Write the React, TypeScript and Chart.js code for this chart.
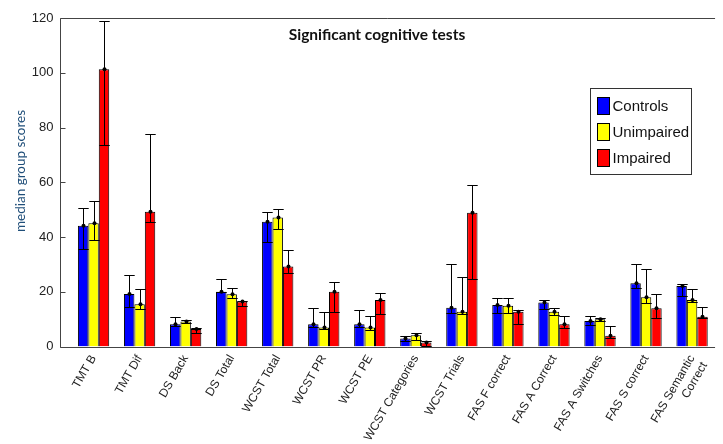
import React, { useEffect, useRef } from 'react';
import { Chart, registerables } from 'chart.js';

Chart.register(...registerables);

const categories: (string | string[])[] = [
  'TMT B', 'TMT Dif', 'DS Back', 'DS Total', 'WCST Total', 'WCST PR', 'WCST PE',
  'WCST Categories', 'WCST Trials', 'FAS F correct', 'FAS A Correct', 'FAS A Switches',
  'FAS S correct', ['FAS Semantic', 'Correct'],
];

const seriesNames = ['Controls', 'Unimpaired', 'Impaired'];
const seriesColors = ['#0000FF', '#FFFF00', '#FF0000'];

const controls = [44.1, 19.2, 8.1, 20.0, 45.6, 8.1, 8.1, 2.9, 14.2, 15.2, 16.1, 9.3, 23.1, 22.1];
const controlsLow = [35.7, 14.5, 7.5, 19.8, 38.1, 7.0, 7.0, 2.0, 12.1, 12.1, 13.7, 7.9, 21.3, 18.4];
const controlsHigh = [50.7, 26.1, 10.9, 24.7, 49.0, 14.2, 13.3, 3.9, 30.0, 17.8, 17.1, 11.3, 30.0, 22.7];

const unimpaired = [45.0, 15.4, 9.1, 19.1, 47.1, 6.9, 6.9, 4.1, 12.7, 14.9, 12.7, 10.0, 18.0, 17.0];
const unimpairedLow = [38.9, 13.7, 8.5, 17.8, 42.8, 6.4, 6.0, 2.4, 11.8, 12.1, 11.5, 9.3, 15.8, 16.3];
const unimpairedHigh = [53.0, 21.0, 9.8, 21.4, 50.3, 12.6, 11.3, 4.8, 25.5, 17.8, 14.0, 10.3, 28.4, 20.9];

const impaired = [101.3, 49.2, 6.4, 16.4, 29.2, 20.0, 17.0, 1.5, 48.9, 12.7, 8.1, 3.9, 14.0, 10.9];
const impairedLow = [73.5, 45.6, 4.8, 14.9, 26.7, 12.7, 12.0, 0.3, 24.5, 8.1, 6.9, 3.2, 10.5, 10.3];
const impairedHigh = [118.8, 77.6, 6.6, 16.6, 35.3, 23.7, 19.5, 1.9, 59.1, 13.3, 11.3, 7.6, 19.2, 14.5];

const yTicks = [0, 20, 40, 60, 80, 100, 120];
const chartTitle = 'Significant cognitive tests';
const yAxisTitle = 'median group scores';

export default function App() {
  const ref = useRef<HTMLCanvasElement>(null);

  useEffect(() => {
    document.body.style.margin = '0';
    const medians = [controls, unimpaired, impaired];
    const lows = [controlsLow, unimpairedLow, impairedLow];
    const highs = [controlsHigh, unimpairedHigh, impairedHigh];

    const errorBars = {
      id: 'errorBars',
      afterDatasetsDraw(chart: any) {
        const ctx = chart.ctx;
        const ys = chart.scales.y;
        ctx.save();
        ctx.strokeStyle = '#000';
        ctx.fillStyle = '#000';
        ctx.lineWidth = 1;
        chart.data.datasets.forEach((_: any, di: number) => {
          const meta = chart.getDatasetMeta(di);
          meta.data.forEach((bar: any, i: number) => {
            const x = Math.round(bar.x) + 0.5;
            const w = bar.width;
            const yl = Math.round(ys.getPixelForValue(lows[di][i])) + 0.5;
            const yh = Math.round(ys.getPixelForValue(highs[di][i])) + 0.5;
            ctx.beginPath();
            ctx.moveTo(x, yl); ctx.lineTo(x, yh);
            ctx.moveTo(x - w / 2, yl); ctx.lineTo(x + w / 2, yl);
            ctx.moveTo(x - w / 2, yh); ctx.lineTo(x + w / 2, yh);
            ctx.stroke();
            ctx.beginPath();
            ctx.arc(x, bar.y, 2, 0, Math.PI * 2);
            ctx.fill();
          });
        });
        ctx.restore();
      },
    };

    const frame = {
      id: 'frame',
      afterDraw(chart: any) {
        const ctx = chart.ctx;
        const a = chart.chartArea;
        const ys = chart.scales.y;
        ctx.save();
        ctx.strokeStyle = '#444';
        ctx.lineWidth = 1;
        const L = Math.round(a.left) + 0.5;
        const T = Math.round(a.top) + 0.5;
        const B = Math.round(a.bottom) + 0.5;
        ctx.beginPath();
        ctx.moveTo(L, T); ctx.lineTo(a.right, T);
        ctx.moveTo(L, T); ctx.lineTo(L, B);
        ctx.moveTo(L, B); ctx.lineTo(a.right, B);
        yTicks.forEach((v) => {
          const py = Math.round(ys.getPixelForValue(v)) + 0.5;
          ctx.moveTo(L, py); ctx.lineTo(L + 5, py);
        });
        ctx.stroke();

        // y axis title
        ctx.save();
        ctx.translate(21, 171);
        ctx.rotate(-Math.PI / 2);
        ctx.fillStyle = '#1F4E79';
        ctx.font = '13.5px Lato, "Open Sans", sans-serif';
        ctx.textAlign = 'center';
        ctx.textBaseline = 'middle';
        ctx.fillText(yAxisTitle, 0, 0);
        ctx.restore();

        // title inside plot
        ctx.fillStyle = '#111';
        ctx.font = 'bold 15.5px Lato, "Open Sans", sans-serif';
        ctx.textAlign = 'center';
        ctx.textBaseline = 'middle';
        ctx.fillText(chartTitle, a.left + 317.5, a.top + 17);

        // legend
        const lx = Math.round(a.left + 530.5) + 0.5;
        const ly = Math.round(a.top + 70) + 0.5;
        ctx.fillStyle = '#fff';
        ctx.fillRect(lx, ly, 101, 86);
        ctx.strokeStyle = '#333';
        ctx.strokeRect(lx, ly, 101, 86);
        ctx.font = '15px "Liberation Sans", Arial, sans-serif';
        ctx.textAlign = 'left';
        seriesNames.forEach((name, k) => {
          const cy = ly + 17 + k * 26;
          ctx.fillStyle = seriesColors[k];
          ctx.fillRect(lx + 7, cy - 8, 12, 17);
          ctx.strokeStyle = '#000';
          ctx.strokeRect(lx + 7, cy - 8, 12, 17);
          ctx.fillStyle = '#111';
          ctx.fillText(name, lx + 22, cy + 1);
        });
        ctx.restore();
      },
    };

    const chart = new Chart(ref.current as HTMLCanvasElement, {
      type: 'bar',
      data: {
        datasets: seriesNames.map((name, di) => ({
          label: name,
          data: medians[di].map((v, i) => ({ x: i + 1, y: v })),
          backgroundColor: seriesColors[di],
          borderColor: '#000',
          borderWidth: 1,
          categoryPercentage: 0.68,
          barPercentage: 1,
        })),
      },
      options: {
        responsive: false,
        animation: false,
        layout: { padding: { top: 18, right: 0, left: 0, bottom: 0 } },
        plugins: {
          legend: { display: false },
          tooltip: { enabled: false },
          title: { display: false },
        },
        scales: {
          x: {
            type: 'linear',
            offset: false,
            bounds: 'data',
            min: 0.26,
            max: 14.5,
            grid: { display: false, drawTicks: false, offset: false },
            border: { display: false },
            afterBuildTicks: (s: any) => {
              s.ticks = categories.map((_, i) => ({ value: i + 1 }));
            },
            afterFit: (s: any) => {
              s.height = 97.5;
            },
            ticks: {
              autoSkip: false,
              includeBounds: false,
              minRotation: 60,
              maxRotation: 60,
              padding: 6,
              color: '#222',
              font: { family: '"Liberation Sans", Arial, sans-serif', size: 12 },
              callback: (v: any) => categories[Math.round(v) - 1] ?? '',
            },
          },
          y: {
            min: 0,
            max: 120,
            grid: { display: false, drawTicks: false },
            border: { display: false },
            afterBuildTicks: (s: any) => {
              s.ticks = yTicks.map((v) => ({ value: v }));
            },
            afterFit: (s: any) => {
              s.width = 59.5;
            },
            ticks: {
              padding: 6,
              color: '#222',
              font: { family: '"Liberation Sans", Arial, sans-serif', size: 13 },
            },
          },
        },
      } as any,
      plugins: [errorBars, frame],
    });
    return () => chart.destroy();
  }, []);

  return (
    <div style={{ position: 'relative', width: 723, height: 444, overflow: 'hidden', background: '#fff' }}>
      <canvas ref={ref} width={723} height={444} />
    </div>
  );
}
